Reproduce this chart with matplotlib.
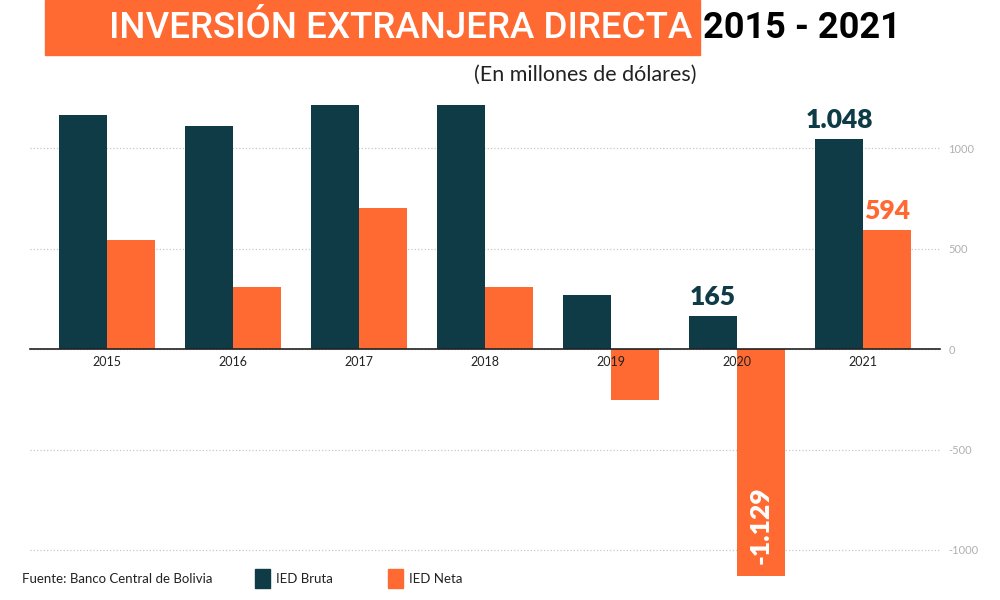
import numpy as np
import matplotlib.pyplot as plt
from matplotlib.patches import Rectangle

plt.rcParams['font.family'] = ['Lato', 'DejaVu Sans']
plt.rcParams['axes.unicode_minus'] = False

years = ['2015', '2016', '2017', '2018', '2019', '2020', '2021']
ied_bruta = [1165, 1110, 1215, 1215, 270, 165, 1048]
ied_neta = [545, 310, 705, 310, -255, -1129, 594]
labels_bruta = {5: '165', 6: '1.048'}
labels_neta = {6: '594'}
label_inside = {5: '-1.129'}

dark = '#0f3b47'
orange = '#ff6a33'

fig = plt.figure(figsize=(10, 6), dpi=100)
ax = fig.add_axes([0.03, 0.03, 0.91, 0.803])

x = np.arange(len(years))
w = 0.38
ax.bar(x - w / 2, ied_bruta, w, color=dark, zorder=3)
ax.bar(x + w / 2, ied_neta, w, color=orange, zorder=3)

ax.set_xlim(-0.61, 6.61)
ax.set_ylim(-1160, 1240)

for i, t in labels_bruta.items():
    ax.text(x[i] - w / 2, ied_bruta[i] + 35, t, ha='center', va='bottom',
            fontsize=19, fontweight='heavy', color=dark, zorder=4)
for i, t in labels_neta.items():
    ax.text(x[i] + w / 2, ied_neta[i] + 35, t, ha='center', va='bottom',
            fontsize=19, fontweight='heavy', color=orange, zorder=4)
for i, t in label_inside.items():
    ax.text(x[i] + w / 2, ied_neta[i] + 60, t, ha='center', va='bottom',
            rotation=90, fontsize=19, fontweight='heavy', color='white', zorder=4)

# year labels on the zero line
for i, y in enumerate(years):
    ax.text(x[i], -35, y, ha='center', va='top', fontsize=9, color='#222222', zorder=6)

# spines / axes
for s in ['top', 'left', 'right']:
    ax.spines[s].set_visible(False)
ax.spines['bottom'].set_position(('data', 0))
ax.spines['bottom'].set_color('#222222')
ax.spines['bottom'].set_linewidth(1.2)
ax.spines['bottom'].set_zorder(5)
ax.set_xticks([])

ax.yaxis.tick_right()
ax.set_yticks([1000, 500, 0, -500, -1000])
ax.tick_params(axis='y', length=0, pad=6, labelsize=8, labelcolor='#b0b0b0')
ax.grid(axis='y', linestyle=':', color='#c8c8c8', linewidth=0.9, zorder=0)

# title block
fig.patches.append(Rectangle((0.045, 0.908), 0.655, 0.092, transform=fig.transFigure,
                             color=orange, zorder=0))
fig.text(0.692, 0.953, 'INVERSIÓN EXTRANJERA DIRECTA', ha='right', va='center',
         fontsize=26.5, color='white', fontweight='medium', family=['Roboto', 'DejaVu Sans'])
fig.text(0.703, 0.953, '2015 - 2021', ha='left', va='center',
         fontsize=26, color='black', fontweight='bold', family=['Roboto', 'DejaVu Sans'])
fig.text(0.697, 0.875, '(En millones de dólares)', ha='right', va='center',
         fontsize=15.5, color='#222222')

# footer legend
fig.text(0.022, 0.035, 'Fuente: Banco Central de Bolivia', ha='left', va='center',
         fontsize=9.5, color='#222222')
fig.patches.append(Rectangle((0.255, 0.02), 0.015, 0.032, transform=fig.transFigure,
                             color=dark))
fig.text(0.276, 0.035, 'IED Bruta', ha='left', va='center', fontsize=9.5, color='#222222')
fig.patches.append(Rectangle((0.388, 0.02), 0.015, 0.032, transform=fig.transFigure,
                             color=orange))
fig.text(0.409, 0.035, 'IED Neta', ha='left', va='center', fontsize=9.5, color='#222222')

plt.savefig('out.png', dpi=100)
